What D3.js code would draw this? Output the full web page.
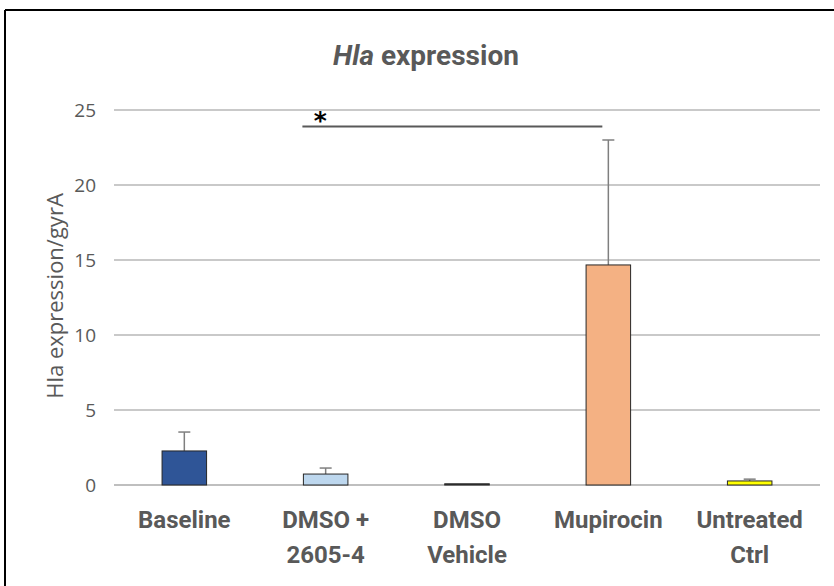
<!DOCTYPE html>
<html>
<head>
  <meta charset="UTF-8">
  <style>
    body {
      margin: 0;
      background: #fff;
    }
    svg {
      display: block;
    }
    .tick-label {
      font-family: 'Open Sans', 'Noto Sans', sans-serif;
      font-size: 19px;
      fill: #595959;
    }
    .cat-label {
      font-family: Roboto, 'Noto Sans', sans-serif;
      font-weight: 700;
      font-size: 24px;
      fill: #595959;
    }
  </style>
  <script src="https://d3js.org/d3.v7.min.js"></script>
</head>
<body>
<svg id="chart" width="834" height="586"></svg>
<script>
// categories (multi-line labels split on '|')
const categories = ['Baseline', 'DMSO +|2605-4', 'DMSO|Vehicle', 'Mupirocin', 'Untreated|Ctrl'];
const means = [2.27, 0.73, 0.08, 14.67, 0.27];
const errors = [1.26, 0.4, 0.0, 8.33, 0.12];
const barColors = ['#2f5597', '#bdd7ee', '#404040', '#f4b183', '#ffff00'];
const yTicks = [0, 5, 10, 15, 20, 25];

const svg = d3.select('#chart');
const W = 834, H = 586;
const margin = {left: 114, right: 14, top: 110, bottom: 101};

// frame (top and left edges show in the crop)
svg.append('line').attr('x1', 5).attr('x2', W).attr('y1', 10).attr('y2', 10)
  .attr('stroke', '#000').attr('stroke-width', 2);
svg.append('line').attr('x1', 5).attr('x2', 5).attr('y1', 10).attr('y2', H)
  .attr('stroke', '#000').attr('stroke-width', 2);

const x = d3.scaleBand()
  .domain(categories)
  .range([margin.left, W - margin.right])
  .paddingInner(0.685)
  .paddingOuter(0.34);

const y = d3.scaleLinear()
  .domain([0, 25])
  .range([H - margin.bottom, margin.top]);

// gridlines
svg.append('g').selectAll('line')
  .data(yTicks)
  .join('line')
  .attr('x1', margin.left)
  .attr('x2', W - margin.right)
  .attr('y1', d => y(d))
  .attr('y2', d => y(d))
  .attr('stroke', d => d === 0 ? '#bfbfbf' : '#c9c9c9')
  .attr('stroke-width', 1.8);

// y tick labels
svg.append('g').selectAll('text')
  .data(yTicks)
  .join('text')
  .attr('class', 'tick-label')
  .attr('x', 96)
  .attr('y', d => y(d))
  .attr('dy', '0.35em')
  .attr('text-anchor', 'end')
  .text(d => d);

// y axis title
svg.append('text')
  .attr('transform', 'translate(55,296) rotate(-90)')
  .attr('text-anchor', 'middle')
  .attr('dy', '0.35em')
  .style('font-family', "'Open Sans', 'Noto Sans', sans-serif")
  .style('font-size', '22px')
  .style('fill', '#595959')
  .text('Hla expression/gyrA');

// chart title
const title = svg.append('text')
  .attr('x', 426)
  .attr('y', 65)
  .attr('text-anchor', 'middle')
  .style('font-family', "Roboto, 'Noto Sans', sans-serif")
  .style('font-weight', 700)
  .style('font-size', '28px')
  .style('fill', '#595959');
title.append('tspan').style('font-style', 'italic').text('Hla');
title.append('tspan').text(' expression');

// error bars (upper only)
const cw = 12;
const eb = svg.append('g').attr('stroke', '#7f7f7f').attr('stroke-width', 1.5);
categories.forEach((c, i) => {
  if (!errors[i]) return;
  const cx = x(c) + x.bandwidth() / 2;
  eb.append('line').attr('x1', cx).attr('x2', cx)
    .attr('y1', y(means[i])).attr('y2', y(means[i] + errors[i]));
  eb.append('line').attr('x1', cx - cw / 2).attr('x2', cx + cw / 2)
    .attr('y1', y(means[i] + errors[i])).attr('y2', y(means[i] + errors[i]));
});

// bars
svg.append('g').selectAll('rect')
  .data(categories)
  .join('rect')
  .attr('x', d => x(d))
  .attr('width', x.bandwidth())
  .attr('y', (d, i) => y(means[i]))
  .attr('height', (d, i) => y(0) - y(means[i]))
  .attr('fill', (d, i) => barColors[i])
  .attr('stroke', '#262626')
  .attr('stroke-width', 1);

// significance line
const x1 = x(categories[1]) - 1;
const x2 = x(categories[3]) + x.bandwidth() / 2 - 6;
svg.append('line')
  .attr('x1', x1).attr('x2', x2)
  .attr('y1', y(23.9)).attr('y2', y(23.9))
  .attr('stroke', '#595959').attr('stroke-width', 2);
svg.append('text')
  .attr('x', x1 + 18)
  .attr('y', y(23.9) + 2)
  .attr('text-anchor', 'middle')
  .style('font-family', "'DejaVu Sans', sans-serif")
  .style('font-weight', 700)
  .style('font-size', '25px')
  .style('fill', '#000')
  .text('*');

// category labels
const lab = svg.append('g').selectAll('text')
  .data(categories)
  .join('text')
  .attr('class', 'cat-label')
  .attr('text-anchor', 'middle')
  .attr('x', d => x(d) + x.bandwidth() / 2)
  .attr('y', 528);
lab.each(function(d) {
  const parts = d.split('|');
  const t = d3.select(this);
  parts.forEach((p, k) => {
    t.append('tspan')
      .attr('x', x(d) + x.bandwidth() / 2)
      .attr('dy', k === 0 ? 0 : 35)
      .text(p);
  });
});
</script>
</body>
</html>
